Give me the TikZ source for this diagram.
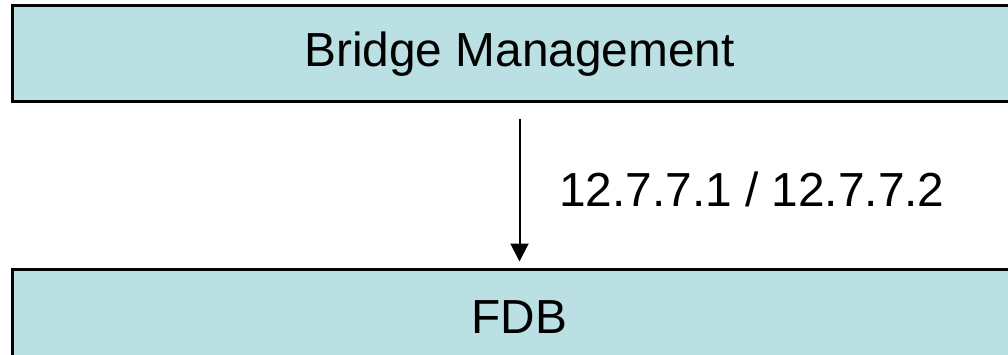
\documentclass[tikz,border=0pt]{standalone}
\usepackage{fontspec}
\setmainfont{Liberation Sans}
\usetikzlibrary{arrows.meta}
\definecolor{layerfill}{HTML}{BBE0E3}
\tikzset{
  layerbox/.style={draw=black, line width=3pt, fill=layerfill,
    minimum width=1014pt, minimum height=96pt, inner sep=0pt,
    font=\fontsize{47.8}{57}\selectfont},
  callarrow/.style={line width=2pt, -{Triangle[width=18pt,length=18pt]},
    shorten <=16pt, shorten >=6pt},
  calllabel/.style={inner sep=0pt, font=\fontsize{47.8}{57}\selectfont}
}
\begin{document}
\begin{tikzpicture}[x=1pt,y=1pt]
  \useasboundingbox (0,0) rectangle (1008,-355);
  \clip (0,0) rectangle (1008,-355);
  % upper layer
  \node[layerbox] (bm) at (519.5,-54) {Bridge Management};
  % lower layer
  \node[layerbox] (fdb) at (519.5,-317) {FDB};
  % service primitives between the layers
  \draw[callarrow] (bm.south) -- (fdb.north);
  \node[calllabel, anchor=base west] (prim) at (559,-207) {12.7.7.1 / 12.7.7.2};
\end{tikzpicture}
\end{document}
